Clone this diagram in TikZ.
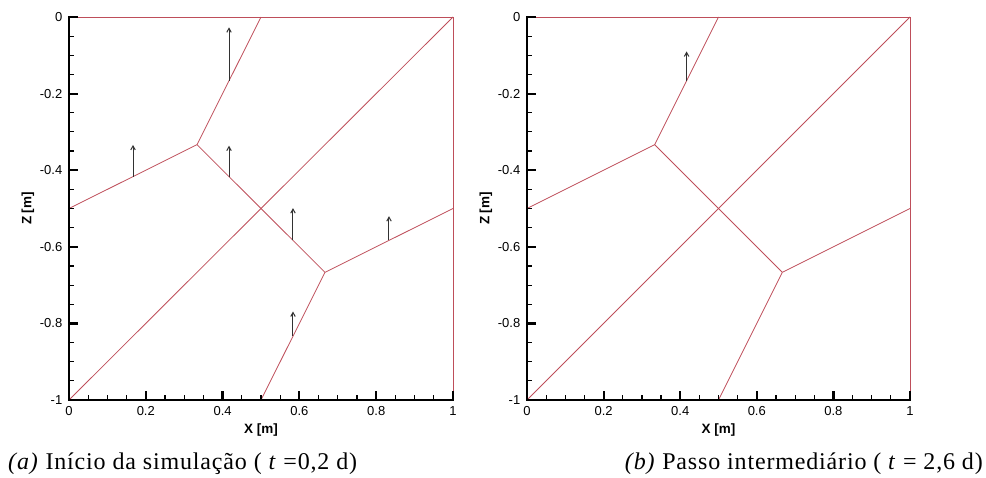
\documentclass[tikz,border=0pt]{standalone}
\usepackage{fontspec}
\setmainfont{Liberation Serif}[LetterSpace=3.5]
\setsansfont{Liberation Sans}
\usetikzlibrary{
  arrows.meta
}

\definecolor{fracred}{RGB}{190,78,90}
\definecolor{velgray}{RGB}{50,50,50}

% axes of one panel, drawn in data units
\newcommand{\meshaxes}[1]{%
  \draw[axisline] (0,0) -- (0,-1) -- (1,-1);
  \foreach \k in {1,...,19}{
    \draw[minortick] (\k/20,-1) -- ++(0,5pt);
    \draw[minortick] (0,-\k/20) -- ++(5pt,0);
  }
  \foreach \k/\lab in {0/0,1/0.2,2/0.4,3/0.6,4/0.8,5/1}{
    \draw[majortick] (\k/5,-1) -- ++(0,9pt);
    \node[ticklab, anchor=north, yshift=-6.5pt] (#1-xl\k) at (\k/5,-1) {\lab};
  }
  \foreach \k/\lab in {0/0,1/-0.2,2/-0.4,3/-0.6,4/-0.8,5/-1}{
    \draw[majortick] (0,-\k/5) -- ++(9pt,0);
    \node[ticklab, anchor=east, xshift=-6.5pt] (#1-yl\k) at (0,-\k/5) {\lab};
  }
  \node[axlab, anchor=base] (#1-xt) at ([yshift=-33pt]0.5,-1) {X [m]};
  \node[axlab, rotate=90] (#1-zt) at ([xshift=-41pt]0,-0.5) {Z [m]};
}

% fracture network of one panel
\newcommand{\fracnet}[1]{%
  \coordinate (#1-v1) at (1/3,-1/3);
  \coordinate (#1-v2) at (2/3,-2/3);
  \draw[frac] (0,0) -- (1,0) -- (1,-1);
  \draw[frac] (0,-1) -- (1,0);
  \draw[frac] (0,-0.5) -- (#1-v1) -- (0.5,0);
  \draw[frac] (#1-v1) -- (#1-v2);
  \draw[frac] (#1-v2) -- (1,-0.5);
  \draw[frac] (#1-v2) -- (0.5,-1);
}

\begin{document}
\begin{tikzpicture}[x=1pt, y=1pt,
  frac/.style = {draw=fracred, line width=0.8pt},
  vel/.style = {draw=velgray, line width=1pt,
    -{Straight Barb[length=4pt,width=4.5pt]}},
  axisline/.style = {draw=black, line width=2.6pt, line cap=rect},
  majortick/.style = {draw=black, line width=2.2pt},
  minortick/.style = {draw=black, line width=1.2pt},
  ticklab/.style = {font=\sffamily\fontsize{13}{15}\selectfont, inner sep=0pt},
  axlab/.style = {font=\sffamily\bfseries\fontsize{13.5}{15}\selectfont, inner sep=0pt},
  caption/.style = {font=\fontsize{24}{27}\selectfont, inner sep=0pt}]
  \useasboundingbox (0,0) rectangle (986,-477);

  % (a) start
  \begin{scope}[shift={(69,-17)}, x=384pt, y=383pt]
    \fracnet{a}
    \coordinate (a-b1) at (0.4167,-0.1667); \coordinate (a-t1) at (0.4167,-0.027);
    \coordinate (a-b2) at (0.1667,-0.4167); \coordinate (a-t2) at (0.1667,-0.334);
    \coordinate (a-b3) at (0.4167,-0.4167); \coordinate (a-t3) at (0.4167,-0.336);
    \coordinate (a-b4) at (0.5833,-0.5833); \coordinate (a-t4) at (0.5833,-0.499);
    \coordinate (a-b5) at (0.8333,-0.5833); \coordinate (a-t5) at (0.8333,-0.520);
    \coordinate (a-b6) at (0.5833,-0.8333); \coordinate (a-t6) at (0.5833,-0.769);
    \foreach \i in {1,...,6}
      \draw[vel] (a-b\i) -- (a-t\i);
    \meshaxes{a}
  \end{scope}

  % (b) intermediate step
  \begin{scope}[shift={(527,-17)}, x=383pt, y=383pt]
    \fracnet{b}
    \coordinate (b-b1) at (0.4167,-0.1667); \coordinate (b-t1) at (0.4167,-0.090);
    \draw[vel] (b-b1) -- (b-t1);
    \meshaxes{b}
  \end{scope}

  \node[caption, anchor=base west] (capa) at (8,-469)
    {\textit{(a)} Início da simulação ( \textit{t} =0,2 d)};
  \node[caption, anchor=base east] (capb) at (983,-469)
    {\textit{(b)} Passo intermediário ( \textit{t} = 2,6 d)};
\end{tikzpicture}
\end{document}
